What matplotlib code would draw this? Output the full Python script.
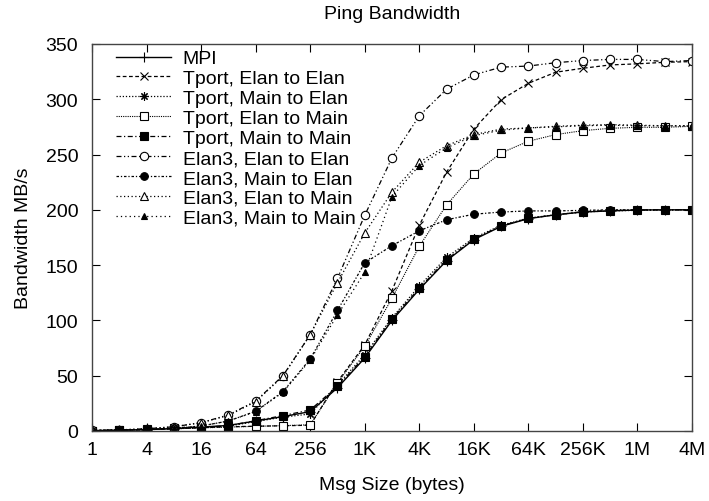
import matplotlib
matplotlib.use("Agg")
import matplotlib.pyplot as plt
import numpy as np

plt.rcParams['font.family'] = ['Liberation Sans', 'DejaVu Sans']

# message sizes 1 .. 4M bytes, one point per power of two
sizes = [2 ** i for i in range(23)]

mpi        = [0.3, 0.6, 1.2, 2.2, 3.5, 5.0, 9.0, 13.0, 17.5, 39.0, 66.0, 100.0, 128.0, 154.0, 173.0, 185.0, 192.0, 195.5, 198.0, 199.0, 199.8, 200.0, 200.0]
tport_ee   = [0.3, 0.6, 1.2, 2.0, 3.0, 3.8, 4.3, 4.7, 5.2, 44.6, 77.8, 127.0, 186.0, 234.0, 273.0, 299.6, 314.4, 324.4, 328.0, 331.0, 332.0, 333.4, 334.0]
tport_me   = [0.3, 0.7, 1.3, 2.2, 3.0, 4.4, 8.5, 12.5, 15.4, 41.5, 69.0, 102.5, 131.0, 157.0, 174.5, 186.0, 192.5, 195.5, 198.0, 199.0, 199.5, 199.8, 200.0]
tport_em   = [0.3, 0.6, 1.1, 1.9, 2.8, 3.5, 4.2, 4.8, 5.6, 43.4, 76.6, 120.0, 167.0, 204.4, 232.4, 251.4, 262.0, 268.0, 271.6, 273.7, 274.6, 274.6, 275.5]
tport_mm   = [0.4, 0.8, 1.5, 2.4, 3.3, 4.8, 9.3, 13.9, 19.0, 40.4, 67.2, 101.3, 129.0, 155.0, 173.6, 185.5, 192.3, 195.4, 198.4, 199.3, 199.9, 200.0, 200.0]
elan3_ee   = [0.5, 1.0, 2.0, 3.8, 7.5, 14.5, 27.0, 50.0, 87.0, 138.0, 195.0, 247.0, 285.0, 309.0, 322.0, 329.0, 330.0, 333.0, 335.0, 336.0, 336.0, 334.0, 335.0]
elan3_me   = [0.3, 0.7, 1.4, 2.5, 4.5, 9.0, 17.8, 35.6, 65.0, 109.0, 152.0, 167.6, 181.0, 191.0, 196.0, 198.0, 199.0, 199.0, 199.5, 200.0, 200.0, 200.0, 200.0]
elan3_em   = [0.5, 1.0, 2.0, 3.8, 7.5, 14.0, 26.5, 49.5, 87.0, 134.0, 179.0, 216.0, 243.0, 258.0, 268.0, 273.0, 274.0, 275.5, 276.5, 277.0, 276.5, 276.0, 276.0]
elan3_mm   = [0.3, 0.7, 1.4, 2.5, 4.5, 9.0, 17.5, 35.0, 64.0, 105.0, 143.5, 212.0, 240.0, 256.0, 267.0, 272.0, 274.0, 275.0, 276.0, 276.5, 276.0, 276.0, 276.0]

xticks = [4 ** k for k in range(12)]
xticklabels = ['1', '4', '16', '64', '256', '1K', '4K', '16K', '64K', '256K', '1M', '4M']

fig = plt.figure(figsize=(7.09, 5.02), dpi=100)
ax = fig.add_axes([0.1298, 0.1395, 0.8462, 0.771])

k = 'black'
ax.plot(sizes, mpi, color=k, lw=1.0, ls='-', marker='+', ms=7, mew=0.8, label='MPI')
ax.plot(sizes, tport_ee, color=k, lw=0.9, ls=(0, (3, 2)), marker='x', ms=6, mew=0.8, label='Tport, Elan to Elan')
ax.plot(sizes, tport_me, color=k, lw=0.9, ls=(0, (1, 1.5)), marker=(8, 2, 0), ms=6, mew=0.8, label='Tport, Main to Elan')
ax.plot(sizes, tport_em, color=k, lw=0.8, ls=(0, (1, 1)), marker='s', ms=6, mfc='white', mew=0.8, label='Tport, Elan to Main')
ax.plot(sizes, tport_mm, color=k, lw=0.9, ls=(0, (4, 2, 1, 2)), marker='s', ms=6, mew=0.8, label='Tport, Main to Main')
ax.plot(sizes, elan3_ee, color=k, lw=0.9, ls=(0, (4, 2, 1, 2, 1, 2)), marker='o', ms=6, mfc='white', mew=0.8, label='Elan3, Elan to Elan')
ax.plot(sizes, elan3_me, color=k, lw=0.9, ls=(0, (2, 1.5, 1, 1.5)), marker='o', ms=5.5, mew=0.8, label='Elan3, Main to Elan')
ax.plot(sizes, elan3_em, color=k, lw=0.9, ls=(0, (1, 2)), marker='^', ms=6, mfc='white', mew=0.8, label='Elan3, Elan to Main')
ax.plot(sizes, elan3_mm, color=k, lw=0.9, ls=(0, (1, 2.5)), marker='^', ms=5, mew=0.8, label='Elan3, Main to Main')

ax.set_xscale('log', base=2)
ax.set_xlim(1, 4 * 1024 * 1024)
ax.set_ylim(0, 350)
ax.set_xticks(xticks)
ax.set_xticklabels(xticklabels)
ax.xaxis.set_minor_locator(matplotlib.ticker.NullLocator())
ax.set_yticks(np.arange(0, 351, 50))
ax.tick_params(direction='in', top=True, right=True, length=6, width=0.8, labelsize=14)
ax.tick_params(axis='x', pad=7)
ax.tick_params(axis='y', pad=10)
for sp in ax.spines.values():
    sp.set_linewidth(1.0)
    sp.set_color('#444444')

ax.set_title('Ping Bandwidth', fontsize=14, pad=19)
ax.set_xlabel('Msg Size (bytes)', fontsize=14, labelpad=13)
ax.set_ylabel('Bandwidth MB/s', fontsize=14, labelpad=10)

ax.legend(loc='upper left', bbox_to_anchor=(0.04, 0.985), frameon=False, fontsize=14,
          handlelength=2.83, handletextpad=0.6, labelspacing=0.12,
          borderaxespad=0, borderpad=0)

fig.savefig('out.png', dpi=100)
